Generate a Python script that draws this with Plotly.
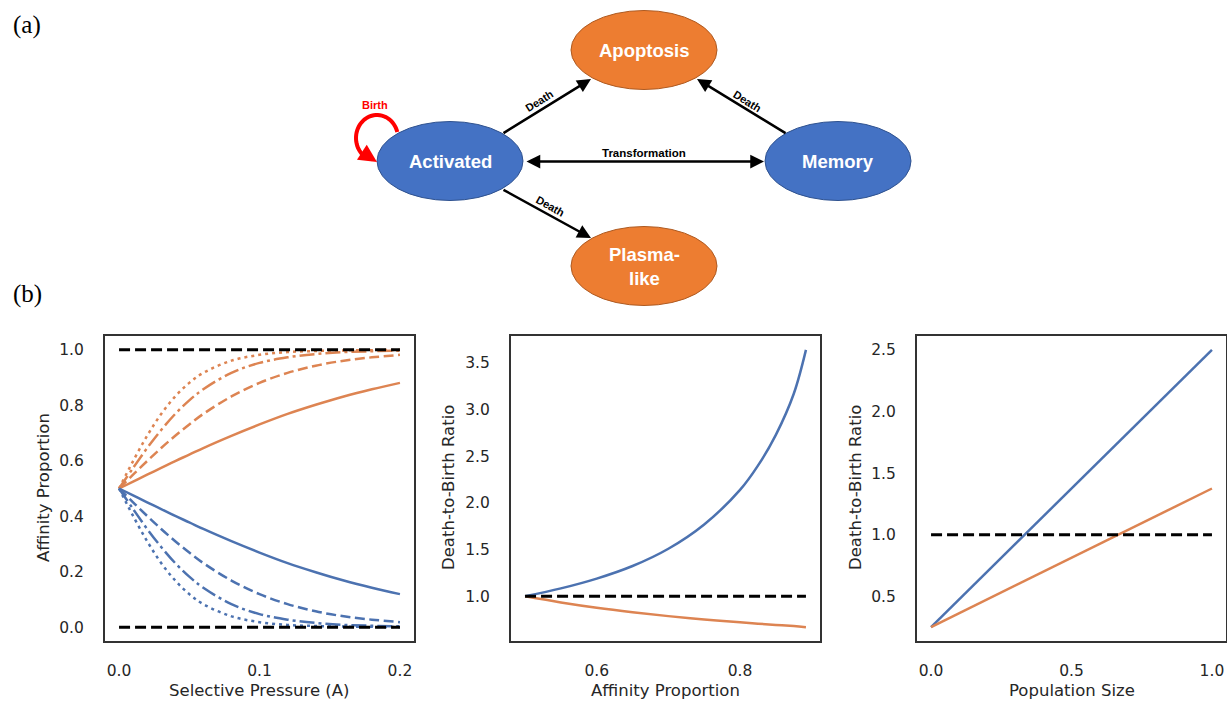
import math
import plotly.graph_objects as go

W, H = 1227, 702

# ---------------- data ----------------
# Panel 1: affinity proportion vs selective pressure
A_vals = [0, 0.01, 0.02, 0.03, 0.04, 0.05, 0.06, 0.08, 0.10, 0.12, 0.14, 0.16, 0.18, 0.20]
high_solid = [0.5, 0.525, 0.550, 0.574, 0.599, 0.622, 0.646, 0.690, 0.731, 0.769, 0.802, 0.832, 0.858, 0.881]
high_dash = [0.5, 0.550, 0.599, 0.646, 0.690, 0.731, 0.769, 0.832, 0.881, 0.917, 0.943, 0.961, 0.973, 0.982]
high_dashdot = [0.5, 0.574, 0.646, 0.711, 0.769, 0.818, 0.858, 0.917, 0.953, 0.973, 0.985, 0.992, 0.995, 0.997]
high_dot = [0.5, 0.599, 0.690, 0.769, 0.832, 0.881, 0.917, 0.961, 0.982, 0.992, 0.996, 0.998, 0.999, 1.0]
low_solid = [0.5, 0.475, 0.450, 0.426, 0.401, 0.378, 0.354, 0.310, 0.269, 0.231, 0.198, 0.168, 0.142, 0.119]
low_dash = [0.5, 0.450, 0.401, 0.354, 0.310, 0.269, 0.231, 0.168, 0.119, 0.083, 0.057, 0.039, 0.027, 0.018]
low_dashdot = [0.5, 0.426, 0.354, 0.289, 0.231, 0.182, 0.142, 0.083, 0.047, 0.027, 0.015, 0.008, 0.005, 0.003]
low_dot = [0.5, 0.401, 0.310, 0.231, 0.168, 0.119, 0.083, 0.039, 0.018, 0.008, 0.004, 0.002, 0.001, 0.0]
p1_ref_x = [0, 0.2]
p1_ref_top = [1.0, 1.0]
p1_ref_bottom = [0.0, 0.0]

# Panel 2: death-to-birth ratio vs affinity proportion
p_vals = [0.5, 0.55, 0.6, 0.65, 0.7, 0.75, 0.8, 0.825, 0.85, 0.875, 0.892]
ratio_blue = [1.0, 1.085, 1.19, 1.325, 1.51, 1.77, 2.14, 2.40, 2.73, 3.17, 3.64]
ratio_orange = [1.0, 0.935, 0.878, 0.83, 0.788, 0.753, 0.722, 0.707, 0.694, 0.681, 0.67]
p2_ref_x = [0.5, 0.892]
p2_ref_y = [1.0, 1.0]

# Panel 3: death-to-birth ratio vs population size
pop_vals = [0.0, 1.0]
pop_blue = [0.25, 2.5]
pop_orange = [0.25, 1.375]
p3_ref_x = [0.0, 1.0]
p3_ref_y = [1.0, 1.0]

# tick labels
p1_xticks = [0, 0.1, 0.2]
p1_xlabels = ["0.0", "0.1", "0.2"]
p1_yticks = [0, 0.2, 0.4, 0.6, 0.8, 1.0]
p2_xticks = [0.6, 0.8]
p2_yticks = [1.0, 1.5, 2.0, 2.5, 3.0, 3.5]
p3_xticks = [0.0, 0.5, 1.0]
p3_yticks = [0.5, 1.0, 1.5, 2.0, 2.5]

BLUE = "#4C72B0"
ORANGE = "#DD8452"
TXT = "#262626"
FONT = "DejaVu Sans"

fig = go.Figure()

def line(x, y, color, dash="solid", width=2.5, xa="x", ya="y", spline=True):
    fig.add_trace(go.Scatter(
        x=x, y=y, mode="lines", xaxis=xa, yaxis=ya, hoverinfo="skip",
        line=dict(color=color, width=width, dash=dash,
                  shape="spline" if spline else "linear", smoothing=1.0)))

D_DASH = "10px,4.5px"
D_DASHDOT = "15px,4px,3px,4px"
D_DOT = "3px,4px"
K_DASH = "11px,5px"

# Panel 1
for ys, d in [(high_solid, "solid"), (high_dash, D_DASH), (high_dashdot, D_DASHDOT), (high_dot, D_DOT)]:
    line(A_vals, ys, ORANGE, d)
for ys, d in [(low_solid, "solid"), (low_dash, D_DASH), (low_dashdot, D_DASHDOT), (low_dot, D_DOT)]:
    line(A_vals, ys, BLUE, d)
line(p1_ref_x, p1_ref_top, "black", K_DASH, 3, spline=False)
line(p1_ref_x, p1_ref_bottom, "black", K_DASH, 3, spline=False)

# Panel 2
line(p_vals, ratio_blue, BLUE, xa="x2", ya="y2")
line(p_vals, ratio_orange, ORANGE, xa="x2", ya="y2")
line(p2_ref_x, p2_ref_y, "black", K_DASH, 3, xa="x2", ya="y2", spline=False)

# Panel 3
line(pop_vals, pop_blue, BLUE, xa="x3", ya="y3", spline=False)
line(pop_vals, pop_orange, ORANGE, xa="x3", ya="y3", spline=False)
line(p3_ref_x, p3_ref_y, "black", K_DASH, 3, xa="x3", ya="y3", spline=False)

def px(x):
    return x / W

def py(y):
    return 1 - y / H

ydom = [py(641), py(336)]
xdoms = [[px(105), px(414)], [px(511), px(820)], [px(917), px(1226)]]

axis_common = dict(showline=True, mirror=True, linecolor="#333333", linewidth=2.2,
                   showgrid=False, zeroline=False, ticks="",
                   tickfont=dict(family=FONT, size=15.5, color=TXT))

layout_axes = {}
specs = [
    (dict(range=[-0.01, 0.21], tickvals=p1_xticks, ticktext=p1_xlabels),
     dict(range=[-0.05, 1.05], tickvals=p1_yticks, tickformat=".1f")),
    (dict(range=[0.4804, 0.9116], tickvals=p2_xticks, tickformat=".1f"),
     dict(range=[0.5215, 3.7885], tickvals=p2_yticks, tickformat=".1f")),
    (dict(range=[-0.05, 1.05], tickvals=p3_xticks, tickformat=".1f"),
     dict(range=[0.1375, 2.6125], tickvals=p3_yticks, tickformat=".1f")),
]
for i, (xs, ys) in enumerate(specs):
    n = "" if i == 0 else str(i + 1)
    layout_axes["xaxis" + n] = dict(axis_common, domain=xdoms[i], anchor="y" + n,
                                    ticklabelstandoff=14, **xs)
    layout_axes["yaxis" + n] = dict(axis_common, domain=ydom, anchor="x" + n,
                                    ticklabelstandoff=16, **ys)

annotations = []
# axis titles
xtitles = ["Selective Pressure (A)", "Affinity Proportion", "Population Size"]
ytitles = ["Affinity Proportion", "Death-to-Birth Ratio", "Death-to-Birth Ratio"]
ytitle_x = [43, 448, 855]
for i in range(3):
    cx = (xdoms[i][0] + xdoms[i][1]) / 2
    annotations.append(dict(text=xtitles[i], x=cx, y=py(690), xref="paper", yref="paper",
                            showarrow=False, xanchor="center", yanchor="middle",
                            font=dict(family=FONT, size=16.5, color=TXT)))
    annotations.append(dict(text=ytitles[i], x=px(ytitle_x[i]), y=py(488), xref="paper",
                            yref="paper", showarrow=False, textangle=-90,
                            xanchor="center", yanchor="middle",
                            font=dict(family=FONT, size=16.5, color=TXT)))

# panel letters
for lab, yy in [("(a)", 25), ("(b)", 294)]:
    annotations.append(dict(text=lab, x=px(27), y=py(yy), xref="paper", yref="paper",
                            showarrow=False, xanchor="center", yanchor="middle",
                            font=dict(family="Liberation Serif", size=25, color="black")))

# ---------------- diagram ----------------
shapes = []
ORG_FILL, ORG_LINE = "#ED7D31", "#AE5A21"
BLU_FILL, BLU_LINE = "#4472C4", "#2F528F"
nodes = [
    ("Apoptosis", 644, 50, ORG_FILL, ORG_LINE),
    ("Activated", 450, 161, BLU_FILL, BLU_LINE),
    ("Memory", 838, 161, BLU_FILL, BLU_LINE),
    ("Plasma-<br>like", 644, 266, ORG_FILL, ORG_LINE),
]
RX, RY = 73, 39.5
for label, cx, cy, fc, lc in nodes:
    shapes.append(dict(type="circle", xref="paper", yref="paper",
                       x0=px(cx - RX), x1=px(cx + RX), y0=py(cy + RY), y1=py(cy - RY),
                       fillcolor=fc, line=dict(color=lc, width=1), layer="above"))
    annotations.append(dict(text="<b>" + label + "</b>", x=px(cx), y=py(cy), xref="paper",
                            yref="paper", showarrow=False, xanchor="center", yanchor="middle",
                            font=dict(family="Liberation Sans", size=18.5, color="white")))

def arrow(hx, hy, tx, ty, color="black", width=2.5, side="end", head=2, size=1.1):
    annotations.append(dict(x=px(hx), y=py(hy), xref="paper", yref="paper",
                            ax=tx - hx, ay=ty - hy, axref="pixel", ayref="pixel",
                            text="", showarrow=True, arrowhead=head, startarrowhead=head,
                            arrowsize=size, startarrowsize=size, arrowwidth=width,
                            arrowcolor=color, arrowside=side))

arrow(591, 79, 502, 134)        # Activated -> Apoptosis
arrow(697, 79, 787, 134)        # Memory -> Apoptosis
arrow(764, 161.5, 525, 161.5, side="end+start")  # Transformation
arrow(591, 238, 502, 189)       # Activated -> Plasma

def small_text(t, x, y, ang, color="black", size=11):
    annotations.append(dict(text="<b>" + t + "</b>", x=px(x), y=py(y), xref="paper",
                            yref="paper", showarrow=False, textangle=ang,
                            xanchor="center", yanchor="middle",
                            font=dict(family="Liberation Sans", size=size, color=color)))

small_text("Death", 539, 101, -32)
small_text("Death", 747, 101, 32)
small_text("Death", 550, 206, 29)
small_text("Transformation", 644, 153.5, 0, size=11.5)
small_text("Birth", 375, 105, 0, color="#FF0000", size=11)

# Birth loop (red circular arrow)
lcx, lcy, lrx, lry = 377, 138, 21, 23
pts = []
for k in range(0, 41):
    ang = math.radians(-15 - k * 5.6)  # from right side, over the top, to lower-left
    pts.append((lcx + lrx * math.cos(ang), lcy + lry * math.sin(ang)))
path = "M " + " L ".join(f"{px(a):.5f},{py(b):.5f}" for a, b in pts)
shapes.append(dict(type="path", xref="paper", yref="paper", path=path,
                   line=dict(color="#FF0000", width=4), layer="above"))
arrow(377, 162, 363, 153, color="#FF0000", width=4, size=0.9)

fig.update_layout(
    width=W, height=H, margin=dict(l=0, r=0, t=0, b=0),
    paper_bgcolor="white", plot_bgcolor="white", showlegend=False,
    shapes=shapes, annotations=annotations, **layout_axes)

fig.write_html("out.html", config={"displayModeBar": False},
               post_script="document.body.style.margin='0px';"
                           "document.body.style.overflow='hidden';")
